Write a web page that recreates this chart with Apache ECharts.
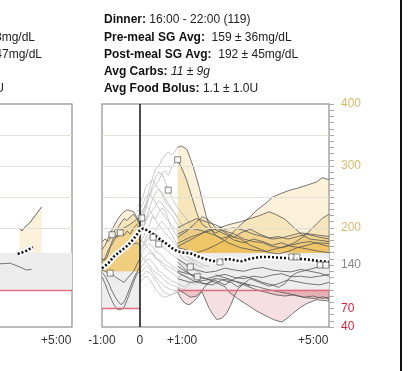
<!DOCTYPE html>
<html><head><meta charset="utf-8">
<script src="https://cdn.jsdelivr.net/npm/echarts@6/dist/echarts.min.js"></script>
<style>html,body{margin:0;padding:0;background:#fff}#c{width:415px;height:371px}</style>
</head><body><div id="c"></div>
<script>
// ---------- axis / labels ----------
const xLabelVals = [-60, 0, 67, 275];
const xLabelText = ['-1:00', '0', '+1:00', '+5:00'];
const yLabelVals = [40, 70, 140, 200, 300, 400];
const gridYs = [200, 250, 300, 350];
const leftPanelMin = 186; // first visible minute of the clipped left panel
// ---------- windows / thresholds ----------
const preWin = [-60, 0], preLow = 70, preHigh = 130;
const postWin = [60, 300], postLow = 100, postHigh = 160;
// ---------- average (dotted) ----------
const avgT = [-60,-50,-40,-30,-20,-10,-5,0,5,10,15,20,30,40,50,60,70,80,90,100,110,120,130,140,150,160,175,190,205,220,235,250,265,280,300];
const avgV = [135,143,155,163,171,182,189,196,199,197,194,191,183,176,168,162,160,159,155,151,148,146,148,150,148,146,150,153,153,152,151,150,149,147,145];
// ---------- squares ----------
const sqT = [-47,-44,-31,3,21,30,45,60,80,91,127,241,249,286,295];
const sqV = [127,189,192,216,185,174,261,310,137,121,145,153,153,140,140];
// ---------- light grey traces (0 .. +2h) ----------
const g1 = [[-5,205],[0,215],[5,228],[10,240],[15,262],[20,280],[25,295],[30,300],[35,310],[40,318],[45,322],[50,318],[55,322],[60,330]];
const g2 = [[-5,205],[0,210],[5,222],[10,238],[15,250],[20,262],[25,270],[30,276],[35,288],[40,292],[45,285],[50,296],[55,305],[60,308]];
const g3 = [[-8,190],[0,198],[5,210],[10,232],[15,250],[20,268],[25,282],[30,290],[35,287],[40,275],[45,262],[50,250],[60,232],[70,220],[80,205],[90,190]];
const g4 = [[0,190],[5,200],[10,215],[15,230],[20,246],[25,256],[30,262],[35,258],[40,248],[45,240],[50,232],[60,215],[70,200],[80,185]];
const g5 = [[0,185],[5,198],[10,212],[15,222],[20,228],[25,236],[30,244],[35,240],[40,232],[50,222],[60,205],[70,190]];
const g6 = [[0,175],[5,185],[10,195],[15,205],[20,218],[25,215],[30,225],[35,232],[40,228],[45,215],[50,200],[60,185],[70,175],[80,160]];
const g7 = [[0,168],[5,172],[10,185],[15,195],[20,200],[25,196],[30,205],[35,210],[40,205],[50,190],[60,172],[70,160],[80,150],[90,142]];
const g8 = [[0,160],[5,170],[10,178],[15,186],[20,190],[25,184],[30,178],[35,170],[40,166],[50,158],[60,150],[70,140],[80,134]];
const g9 = [[0,150],[5,162],[10,170],[15,175],[20,170],[25,162],[30,160],[35,155],[40,148],[50,140],[60,132],[70,128],[80,135],[90,130],[100,125]];
const g10 = [[0,142],[5,150],[10,155],[15,160],[20,158],[25,150],[30,148],[35,140],[40,135],[50,128],[60,120],[70,125],[80,118]];
const g11 = [[0,135],[5,140],[10,148],[15,150],[20,145],[25,138],[30,130],[35,128],[40,122],[50,115],[60,110],[70,105],[80,112],[90,108]];
const g12 = [[0,128],[5,132],[10,138],[15,135],[20,128],[25,120],[30,115],[35,110],[40,105],[50,100],[60,98],[70,95]];
const g13 = [[0,120],[5,124],[10,130],[15,128],[20,122],[25,115],[30,108],[35,100],[40,95],[50,92],[60,96],[70,100],[80,110]];
const g14 = [[0,112],[5,118],[10,122],[15,118],[20,110],[25,100],[30,95],[35,90],[40,88],[50,92],[60,100]];
const g15 = [[-6,225],[0,230],[5,240],[10,250],[15,255],[20,250],[25,240],[30,232],[35,225],[40,218],[50,205],[60,195],[70,185],[80,175]];
const g16 = [[0,200],[5,205],[10,200],[15,195],[20,192],[25,190],[30,182],[35,176],[40,170],[50,165],[60,160],[70,150],[80,145],[90,140],[100,136]];
const g17 = [[0,180],[5,178],[10,170],[15,165],[20,160],[25,152],[30,148],[35,145],[40,140],[50,135],[60,128],[70,122],[80,118],[90,120]];
const g18 = [[0,156],[5,152],[10,145],[15,140],[20,132],[25,128],[30,125],[35,120],[40,114],[50,108],[60,104],[70,100]];
const g19 = [[-4,236],[0,240],[5,250],[10,268],[15,272],[20,278],[25,270],[30,262],[35,255],[40,242],[50,230],[60,218]];
const g20 = [[0,222],[5,230],[10,236],[15,230],[20,222],[25,212],[30,205],[35,198],[40,192],[50,180],[60,170],[70,158],[80,150],[90,146],[100,140],[110,138]];
// ---------- pre-meal traces (-1h .. 0) ----------
const pA = [[-60,165],[-55,172],[-50,184],[-45,195],[-40,205],[-35,214],[-30,221],[-25,226],[-20,229],[-15,228],[-10,226],[-5,218],[0,210]];
const pB = [[-60,145],[-55,152],[-50,165],[-45,172],[-40,181],[-35,190],[-30,197],[-25,200],[-20,203],[-15,206],[-10,210],[-5,214],[0,216]];
const pC = [[-60,140],[-55,143],[-50,148],[-45,152],[-40,156],[-35,160],[-30,163],[-25,166],[-20,168],[-15,171],[-10,174],[-5,176],[0,172]];
const pD = [[-60,150],[-55,148],[-50,158],[-45,176],[-40,188],[-35,185],[-30,192],[-25,188],[-20,195],[-15,190],[-10,200],[-5,205],[0,200]];
const pE = [[-60,128],[-55,122],[-50,112],[-45,100],[-40,90],[-35,82],[-30,76],[-25,80],[-20,92],[-15,105],[-10,118],[-5,128],[0,137]];
const pF = [[-60,121],[-55,110],[-50,96],[-45,84],[-40,74],[-35,68],[-30,68],[-25,72],[-20,84],[-15,98],[-10,112],[-5,125],[0,130]];
const pG = [[-60,132],[-55,130],[-50,127],[-45,125],[-40,122],[-35,118],[-30,115],[-25,112],[-20,118],[-15,124],[-10,130],[-5,140],[0,150]];
const pH = [[-60,178],[-55,182],[-50,178],[-45,186],[-40,196],[-35,200],[-30,208],[-25,215],[-20,212],[-15,218],[-10,222],[-5,215],[0,205]];
// ---------- post-meal traces (+1h .. +5h) ----------
const D1 = [[60,330],[65,332],[70,330],[75,326],[80,312],[85,298],[90,280],[95,262],[100,240],[105,220],[110,205],[115,195],[120,188],[130,183],[140,186],[150,180],[165,176],[180,182],[195,178],[210,172],[225,176],[240,170],[255,168],[270,165],[285,162],[300,160]];
const D2 = [[60,308],[65,300],[70,288],[75,275],[80,258],[85,242],[90,225],[95,212],[100,205],[110,198],[120,192],[130,196],[140,190],[150,185],[160,192],[175,198],[190,190],[205,184],[220,186],[235,182],[250,186],[265,190],[280,186],[300,182]];
const H1 = [[60,168],[75,164],[90,160],[105,165],[120,172],[135,180],[150,195],[160,205],[175,218],[186,229],[200,240],[211,250],[225,256],[238,261],[250,264],[265,269],[280,274],[289,281],[300,278]];
const H2 = [[60,175],[80,185],[100,192],[120,198],[140,205],[160,210],[175,215],[190,220],[205,226],[215,222],[230,214],[245,200],[258,188],[270,182],[285,180],[300,178]];
const H3 = [[60,190],[80,200],[100,195],[120,188],[140,176],[160,168],[180,164],[200,162],[215,166],[230,170],[245,176],[260,186],[270,196],[280,206],[290,216],[300,222]];
const H4 = [[60,200],[75,208],[90,215],[105,210],[120,205],[135,198],[150,200],[165,196],[180,190],[195,186],[210,182],[225,184],[240,188],[255,192],[270,190],[285,188],[300,186]];
const H5 = [[60,185],[75,195],[90,210],[100,218],[110,212],[120,200],[135,195],[150,190],[165,182],[180,178],[195,176],[210,170],[225,168],[240,172],[255,176],[270,178],[285,174],[300,170]];
const H6 = [[60,170],[75,178],[90,186],[105,195],[115,200],[130,192],[145,186],[160,182],[175,172],[190,166],[205,160],[220,158],[235,162],[250,168],[265,172],[280,176],[300,175]];
const N1 = [[60,150],[75,140],[90,132],[105,128],[120,130],[135,135],[150,132],[165,130],[180,134],[195,136],[210,132],[225,130],[240,129],[255,133],[270,130],[285,127],[300,122]];
const N2 = [[60,138],[75,128],[90,120],[105,118],[120,122],[135,125],[150,120],[165,118],[180,122],[195,120],[210,124],[225,126],[240,121],[255,122],[270,120],[285,122],[300,125]];
const N3 = [[60,128],[75,120],[90,112],[105,110],[120,115],[135,108],[150,118],[165,122],[180,118],[195,112],[210,108],[220,104],[230,110],[240,122],[250,128],[265,132],[280,136],[300,140]];
const N4 = [[60,145],[70,135],[80,125],[90,118],[100,110],[115,108],[130,116],[145,112],[155,105],[165,110],[175,118],[190,112],[205,106],[220,110],[235,116],[250,113],[265,110],[285,108],[300,112]];
const L1 = [[60,102],[70,95],[80,88],[90,90],[98,98],[104,84],[110,70],[116,60],[122,52],[130,54],[138,63],[144,75],[150,90],[156,102],[165,110],[175,106]];
const L2 = [[60,96],[66,85],[72,78],[78,76],[84,80],[90,86],[96,94],[102,104],[110,112],[120,118]];
const L3 = [[60,130],[80,125],[100,120],[120,112],[135,105],[143,95],[155,86],[170,76],[185,66],[200,58],[212,52],[225,48],[235,55],[245,64],[255,72],[265,78],[280,84],[300,82]];
const L4 = [[60,118],[80,112],[100,115],[120,118],[140,116],[160,112],[175,108],[190,104],[205,100],[220,97],[235,94],[250,90],[265,87],[280,86],[290,89],[300,85]];
const L5 = [[120,124],[140,118],[155,112],[170,106],[185,100],[200,96],[215,92],[230,90],[245,92],[260,88],[275,90],[290,86],[300,88]];
// ---------- left (partial) panel ----------
const leftAvg = [[214,158],[226,162],[238,169]];
const leftHigh = [[217,200],[221,195],[225,201],[233,208],[252,234]];
const leftGrey = [[186,142],[202,143],[217,137],[228,132],[236,133]];

const greyTraces = [g1,g2,g3,g4,g5,g6,g7,g8,g9,g10,g11,g12,g13,g14,g15,g16,g17,g18,g19,g20];
const preTraces = [pA,pB,pC,pD,pE,pF,pG,pH];
const postTraces = [D1,D2,H1,H2,H3,H4,H5,H6,N1,N2,N3,N4,L1,L2,L3,L4,L5];

const FF = "'Liberation Sans', Arial, sans-serif";
const YEL = 'rgba(234,182,58,0.19)';
const PNK = 'rgba(212,95,112,0.2)';
const BORDER = '#a5a5a5';

function line(data, gi, color, width, z, extra) {
  return Object.assign({type:'line', xAxisIndex:gi, yAxisIndex:gi, data, symbol:'none', silent:true,
    lineStyle:{color, width}, z}, extra || {});
}
function fill(data, gi, thr, above, color) {
  const d = data.map(p => [p[0], above ? Math.max(p[1], thr) : Math.min(p[1], thr)]);
  return {type:'line', xAxisIndex:gi, yAxisIndex:gi, data:d, symbol:'none', silent:true,
    lineStyle:{width:0, opacity:0}, areaStyle:{origin:thr, color, opacity:1}, z:2};
}
function helper(gi, postStart, withPre, withFrame) {
  const areas = [[{xAxis:postStart, yAxis:postLow},{xAxis:postWin[1], yAxis:postHigh}]];
  const lines = gridYs.map(v => ({yAxis:v, lineStyle:{color:'#e3e0d6', width:1, type:'solid'}}));
  lines.push([{coord:[postStart, postLow]},{coord:[postWin[1], postLow], lineStyle:{color:'#dd6f7c', width:1.3, type:'solid'}}]);
  if (withPre) {
    areas.push([{xAxis:preWin[0], yAxis:preLow},{xAxis:preWin[1], yAxis:preHigh}]);
    lines.push([{coord:[preWin[0], preLow]},{coord:[preWin[1], preLow], lineStyle:{color:'#dd6f7c', width:1.3, type:'solid'}}]);
  }
  if (withFrame) {
    lines.push({yAxis:400, lineStyle:{color:BORDER, width:1.5, type:'solid'}});
    lines.push({yAxis:40, lineStyle:{color:BORDER, width:1.5, type:'solid'}});
  }
  return {type:'line', xAxisIndex:gi, yAxisIndex:gi, data:[], z:1, silent:true,
    markArea:{silent:true, itemStyle:{color:'#ededed'}, data:areas},
    markLine:{silent:true, symbol:'none', label:{show:false}, animation:false, data:lines}};
}

const series = [];
// left partial panel (grid 0)
series.push(helper(0, leftPanelMin, false, true));
series.push(fill(leftHigh, 0, postHigh, true, YEL));
series.push(line(leftGrey, 0, '#666', 0.9, 4));
series.push(line(leftHigh, 0, '#555', 0.9, 4));
series.push(line(leftAvg, 0, '#fff', 6, 5));
series.push(line(leftAvg, 0, '#111', 2.6, 6, {lineStyle:{color:'#111', width:2.6, type:[2,2]}}));
// right panel (grid 1)
series.push(helper(1, postWin[0], true, false));
preTraces.forEach(t => { series.push(fill(t, 1, preHigh, true, YEL)); series.push(fill(t, 1, preLow, false, PNK)); });
postTraces.forEach(t => { series.push(fill(t, 1, postHigh, true, YEL)); series.push(fill(t, 1, postLow, false, PNK)); });
greyTraces.forEach(t => series.push(line(t, 1, '#b9b9b9', 0.75, 3)));
preTraces.forEach(t => series.push(line(t, 1, '#555', 0.8, 4)));
postTraces.forEach(t => series.push(line(t, 1, '#555', 0.8, 4)));
const avgData = avgT.map((t, i) => [t, avgV[i]]);
series.push(line(avgData, 1, '#fff', 6, 5));
series.push(line(avgData, 1, '#111', 2.6, 6, {lineStyle:{color:'#111', width:2.6, type:[2,2]}}));
series.push({type:'scatter', xAxisIndex:1, yAxisIndex:1, silent:true, z:7,
  data: sqT.map((t, i) => [t, sqV[i]]), symbol:'rect', symbolSize:6,
  itemStyle:{color:'#fff', borderColor:'#555', borderWidth:0.9}});
series.push({type:'line', xAxisIndex:1, yAxisIndex:1, data:[], z:8, silent:true,
  markLine:{silent:true, symbol:'none', label:{show:false}, animation:false,
    data:[{xAxis:0, lineStyle:{color:'#111', width:1.5, type:'solid'}}]}});

function xLabel() {
  return {customValues:null, formatter:v => xLabelText[xLabelVals.indexOf(v)], color:'#333', fontSize:12, margin:8, fontFamily:FF};
}

const chart = echarts.init(document.getElementById('c'), null, {renderer:'canvas'});
chart.setOption({
  animation:false,
  backgroundColor:'#fff',
  grid:[
    {left:0, top:104, width:72, height:223, show:false},
    {left:102, top:104, width:227, height:223, show:true, borderColor:BORDER, borderWidth:1.5, backgroundColor:'transparent'}
  ],
  xAxis:[
    {gridIndex:0, type:'value', min:leftPanelMin, max:300, axisLine:{show:false, onZero:false}, axisTick:{show:false}, splitLine:{show:false},
      axisLabel:Object.assign(xLabel(), {customValues:[275]})},
    {gridIndex:1, type:'value', min:-60, max:300, axisLine:{show:false, onZero:false}, axisTick:{show:false}, splitLine:{show:false},
      axisLabel:Object.assign(xLabel(), {customValues:xLabelVals})}
  ],
  yAxis:[
    {gridIndex:0, type:'value', min:40, max:400, position:'right',
      axisLine:{show:true, onZero:false, lineStyle:{color:BORDER, width:1.5}}, axisTick:{show:false}, axisLabel:{show:false}, splitLine:{show:false}},
    {gridIndex:1, type:'value', min:40, max:400, interval:10, position:'right',
      axisLine:{show:false, onZero:false}, splitLine:{show:false},
      axisTick:{show:true, length:5, lineStyle:{color:'#aaa', width:1}},
      axisLabel:{show:true, interval:0, margin:12, fontSize:12, fontFamily:FF,
        formatter:v => yLabelVals.indexOf(Number(v)) >= 0 ? String(v) : '',
        color:v => { const n = Number(v); return n >= 200 ? '#d6ba6c' : (n === 140 ? '#888' : '#d0233b'); }}}
  ],
  graphic:[
    {type:'group', silent:true, children:[
      {type:'text', x:104, y:20, style:{text:'{b|Dinner:}{n| 16:00 - 22:00 (119)}', verticalAlign:'middle', rich:{b:{fontFamily:FF, fontSize:12, fontWeight:'bold', fill:'#111'}, n:{fontFamily:FF, fontSize:12, fill:'#222'}}}},
      {type:'text', x:104, y:38, style:{text:'{b|Pre-meal SG Avg:}{n|  159 ± 36mg/dL}', verticalAlign:'middle', rich:{b:{fontFamily:FF, fontSize:12, fontWeight:'bold', fill:'#111'}, n:{fontFamily:FF, fontSize:12, fill:'#222'}}}},
      {type:'text', x:104, y:55, style:{text:'{b|Post-meal SG Avg:}{n|  192 ± 45mg/dL}', verticalAlign:'middle', rich:{b:{fontFamily:FF, fontSize:12, fontWeight:'bold', fill:'#111'}, n:{fontFamily:FF, fontSize:12, fill:'#222'}}}},
      {type:'text', x:104, y:72, style:{text:'{b|Avg Carbs:}{n| }{i|11 ± 9g}', verticalAlign:'middle', rich:{b:{fontFamily:FF, fontSize:12, fontWeight:'bold', fill:'#111'}, n:{fontFamily:FF, fontSize:12, fill:'#222'}, i:{fontFamily:FF, fontSize:12, fontStyle:'italic', fill:'#222'}}}},
      {type:'text', x:104, y:89, style:{text:'{b|Avg Food Bolus:}{n| 1.1 ± 1.0U}', verticalAlign:'middle', rich:{b:{fontFamily:FF, fontSize:12, fontWeight:'bold', fill:'#111'}, n:{fontFamily:FF, fontSize:12, fill:'#222'}}}},
      {type:'text', x:35, y:38, style:{text:'{b|Pre-meal SG Avg:}{n|  148 ± 38mg/dL}', align:'right', verticalAlign:'middle', rich:{b:{fontFamily:FF, fontSize:12, fontWeight:'bold', fill:'#111'}, n:{fontFamily:FF, fontSize:12, fill:'#222'}}}},
      {type:'text', x:42, y:55, style:{text:'{b|Post-meal SG Avg:}{n|  171 ± 47mg/dL}', align:'right', verticalAlign:'middle', rich:{b:{fontFamily:FF, fontSize:12, fontWeight:'bold', fill:'#111'}, n:{fontFamily:FF, fontSize:12, fill:'#222'}}}},
      {type:'text', x:4, y:89, style:{text:'{b|Avg Food Bolus:}{n| 1.9 ± 1.6U}', align:'right', verticalAlign:'middle', rich:{b:{fontFamily:FF, fontSize:12, fontWeight:'bold', fill:'#111'}, n:{fontFamily:FF, fontSize:12, fill:'#222'}}}},
      {type:'rect', shape:{x:400, y:0, width:2, height:371}, style:{fill:'#111'}}
    ]}
  ],
  series
});
</script></body></html>
